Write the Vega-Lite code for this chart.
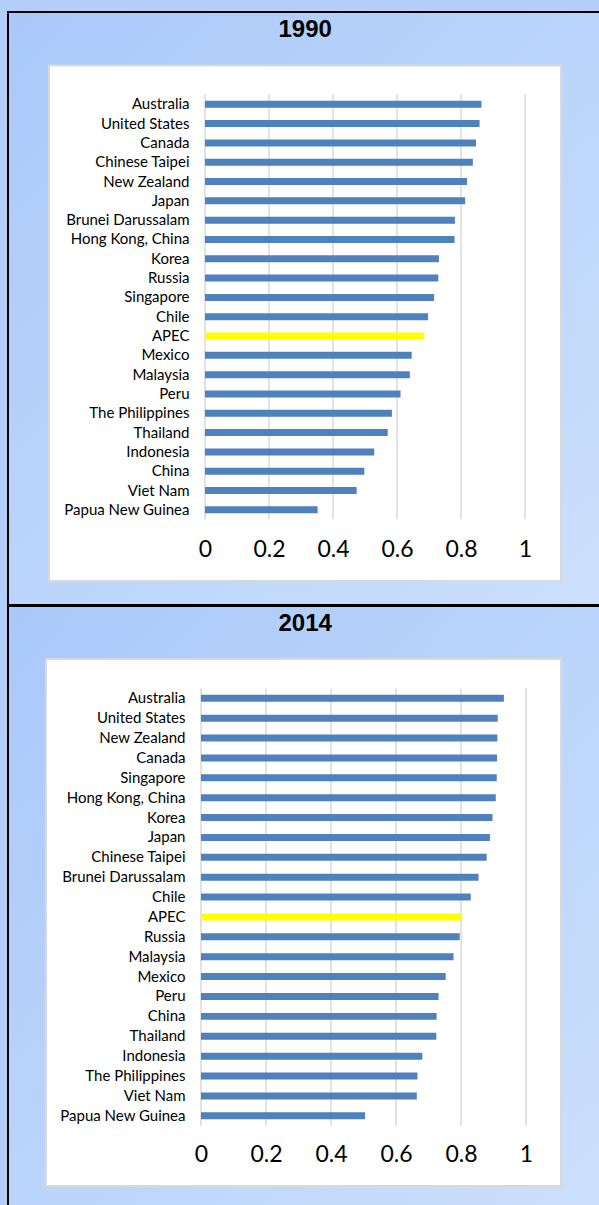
{
  "$schema": "https://vega.github.io/schema/vega-lite/v6.json",
  "background": "#b2cef9",
  "padding": {"left": 7, "top": 11, "right": 0, "bottom": 0},
  "spacing": -2,
  "config": {
    "view": {
      "fill": {"gradient": "linear", "x1": 0, "y1": 0, "x2": 1, "y2": 1, "stops": [{"offset": 0, "color": "#a9c9fa"}, {"offset": 1, "color": "#cce0fc"}]},
      "stroke": "#000000",
      "strokeWidth": 2
    }
  },
  "datasets": {
    "ticks": [{"t": 0}, {"t": 0.2}, {"t": 0.4}, {"t": 0.6}, {"t": 0.8}, {"t": 1}],
    "d1990": [
      {"country": "Australia", "value": 0.864},
      {"country": "United States", "value": 0.858},
      {"country": "Canada", "value": 0.847},
      {"country": "Chinese Taipei", "value": 0.837},
      {"country": "New Zealand", "value": 0.819},
      {"country": "Japan", "value": 0.813},
      {"country": "Brunei Darussalam", "value": 0.781},
      {"country": "Hong Kong, China", "value": 0.780},
      {"country": "Korea", "value": 0.731},
      {"country": "Russia", "value": 0.729},
      {"country": "Singapore", "value": 0.716},
      {"country": "Chile", "value": 0.697},
      {"country": "APEC", "value": 0.685},
      {"country": "Mexico", "value": 0.646},
      {"country": "Malaysia", "value": 0.640},
      {"country": "Peru", "value": 0.611},
      {"country": "The Philippines", "value": 0.584},
      {"country": "Thailand", "value": 0.571},
      {"country": "Indonesia", "value": 0.529},
      {"country": "China", "value": 0.498},
      {"country": "Viet Nam", "value": 0.474},
      {"country": "Papua New Guinea", "value": 0.352}
    ],
    "d2014": [
      {"country": "Australia", "value": 0.932},
      {"country": "United States", "value": 0.913},
      {"country": "New Zealand", "value": 0.912},
      {"country": "Canada", "value": 0.911},
      {"country": "Singapore", "value": 0.910},
      {"country": "Hong Kong, China", "value": 0.907},
      {"country": "Korea", "value": 0.897},
      {"country": "Japan", "value": 0.889},
      {"country": "Chinese Taipei", "value": 0.879},
      {"country": "Brunei Darussalam", "value": 0.854},
      {"country": "Chile", "value": 0.830},
      {"country": "APEC", "value": 0.803},
      {"country": "Russia", "value": 0.796},
      {"country": "Malaysia", "value": 0.777},
      {"country": "Mexico", "value": 0.753},
      {"country": "Peru", "value": 0.731},
      {"country": "China", "value": 0.725},
      {"country": "Thailand", "value": 0.724},
      {"country": "Indonesia", "value": 0.681},
      {"country": "The Philippines", "value": 0.666},
      {"country": "Viet Nam", "value": 0.664},
      {"country": "Papua New Guinea", "value": 0.505}
    ]
  },
  "vconcat": [
    {
      "width": 600,
      "height": 593,
      "layer": [
        {
          "data": {"values": [{"panel": "1990"}]},
          "mark": {"type": "rect", "fill": "#ffffff", "stroke": "#d9d9d9", "strokeWidth": 2},
          "encoding": {
            "x": {"datum": -0.4875, "type": "quantitative", "scale": {"domain": [0, 1], "range": [197, 517], "nice": false, "zero": false},
              "axis": {"title": "1990", "orient": "top", "offset": -24, "zindex": 1, "labels": false, "ticks": false, "domain": false, "grid": false, "titleFont": "Liberation Sans", "titleFontSize": 24, "titleFontWeight": "bold", "titleColor": "#000000", "titleBaseline": "alphabetic", "titleAlign": "center", "titleX": 296.7, "titleY": 0, "titlePadding": 0}},
            "x2": {"datum": 1.1125},
            "y": {"datum": -1.007, "type": "quantitative", "scale": {"domain": [0.5, 22.5], "range": [82.6, 507.5], "nice": false, "zero": false}, "axis": null},
            "y2": {"datum": 25.68}
          }
        },
        {
          "data": {"name": "ticks"},
          "mark": {"type": "rule", "color": "#d9d9d9", "strokeWidth": 1.5},
          "encoding": {
            "x": {"field": "t", "type": "quantitative", "scale": {"domain": [0, 1], "range": [197, 517], "nice": false, "zero": false}, "axis": null},
            "y": {"datum": 0.5, "type": "quantitative", "scale": {"domain": [0.5, 22.5], "range": [82.6, 507.5], "nice": false, "zero": false}, "axis": null},
            "y2": {"datum": 22.5}
          }
        },
        {
          "data": {"name": "d1990"},
          "mark": {"type": "bar"},
          "encoding": {
            "y": {"field": "country", "type": "nominal", "sort": null,
              "scale": {"range": [82.6, 507.5], "paddingInner": 0.638, "paddingOuter": 0.319},
              "axis": {"title": null, "orient": "left", "offset": -197, "zindex": 1, "domain": false, "ticks": false, "grid": false, "labelPadding": 16, "labelFont": "Lato", "labelFontSize": 15, "labelColor": "#000000", "labelLimit": 0}},
            "x": {"field": "value", "type": "quantitative",
              "scale": {"domain": [0, 1], "range": [197, 517], "nice": false, "zero": false},
              "axis": {"title": null, "orient": "bottom", "offset": -85.5, "zindex": 1, "values": [0, 0.2, 0.4, 0.6, 0.8, 1], "format": "~g", "grid": false, "domain": false, "ticks": false, "labelFont": "Lato", "labelFontSize": 23, "labelColor": "#000000", "labelBaseline": "middle", "labelPadding": 30, "labelFlush": false, "labelOverlap": false}},
            "color": {"condition": {"test": "datum.country === 'APEC'", "value": "#ffff00"}, "value": "#4f81bd"}
          }
        }
      ],
      "resolve": {"scale": {"x": "independent", "y": "independent"}}
    },
    {
      "width": 600,
      "height": 610,
      "layer": [
        {
          "data": {"values": [{"panel": "2014"}]},
          "mark": {"type": "rect", "fill": "#ffffff", "stroke": "#d9d9d9", "strokeWidth": 2},
          "encoding": {
            "x": {"datum": -0.477, "type": "quantitative", "scale": {"domain": [0, 1], "range": [193, 518], "nice": false, "zero": false},
              "axis": {"title": "2014", "orient": "top", "offset": -24, "zindex": 1, "labels": false, "ticks": false, "domain": false, "grid": false, "titleFont": "Liberation Sans", "titleFontSize": 24, "titleFontWeight": "bold", "titleColor": "#000000", "titleBaseline": "alphabetic", "titleAlign": "center", "titleX": 296.7, "titleY": 0, "titlePadding": 0}},
            "x2": {"datum": 1.1077},
            "y": {"datum": -0.98, "type": "quantitative", "scale": {"domain": [0.5, 22.5], "range": [82.4, 519.7], "nice": false, "zero": false}, "axis": null},
            "y2": {"datum": 25.53}
          }
        },
        {
          "data": {"name": "ticks"},
          "mark": {"type": "rule", "color": "#d9d9d9", "strokeWidth": 1.5},
          "encoding": {
            "x": {"field": "t", "type": "quantitative", "scale": {"domain": [0, 1], "range": [193, 518], "nice": false, "zero": false}, "axis": null},
            "y": {"datum": 0.5, "type": "quantitative", "scale": {"domain": [0.5, 22.5], "range": [82.4, 519.7], "nice": false, "zero": false}, "axis": null},
            "y2": {"datum": 22.5}
          }
        },
        {
          "data": {"name": "d2014"},
          "mark": {"type": "bar"},
          "encoding": {
            "y": {"field": "country", "type": "nominal", "sort": null,
              "scale": {"range": [82.4, 519.7], "paddingInner": 0.648, "paddingOuter": 0.324},
              "axis": {"title": null, "orient": "left", "offset": -193, "zindex": 1, "domain": false, "ticks": false, "grid": false, "labelPadding": 16, "labelFont": "Lato", "labelFontSize": 15, "labelColor": "#000000", "labelLimit": 0}},
            "x": {"field": "value", "type": "quantitative",
              "scale": {"domain": [0, 1], "range": [193, 518], "nice": false, "zero": false},
              "axis": {"title": null, "orient": "bottom", "offset": -90.3, "zindex": 1, "values": [0, 0.2, 0.4, 0.6, 0.8, 1], "format": "~g", "grid": false, "domain": false, "ticks": false, "labelFont": "Lato", "labelFontSize": 23, "labelColor": "#000000", "labelBaseline": "middle", "labelPadding": 29, "labelFlush": false, "labelOverlap": false}},
            "color": {"condition": {"test": "datum.country === 'APEC'", "value": "#ffff00"}, "value": "#4f81bd"}
          }
        }
      ],
      "resolve": {"scale": {"x": "independent", "y": "independent"}}
    }
  ]
}
